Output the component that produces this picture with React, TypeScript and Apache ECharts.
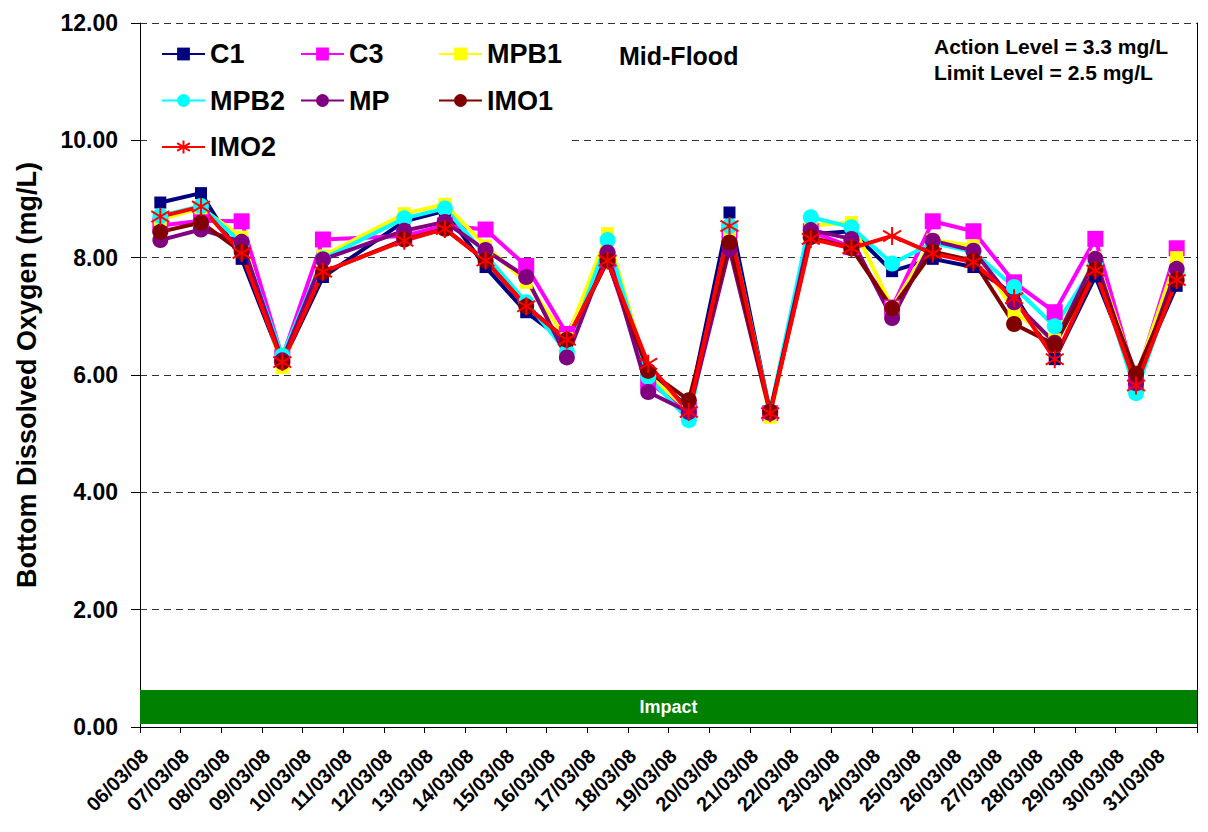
import React, { useEffect, useRef } from "react";
import * as echarts from "echarts";

const categories = [
  "06/03/08", "07/03/08", "08/03/08", "09/03/08", "10/03/08", "11/03/08", "12/03/08",
  "13/03/08", "14/03/08", "15/03/08", "16/03/08", "17/03/08", "18/03/08", "19/03/08",
  "20/03/08", "21/03/08", "22/03/08", "23/03/08", "24/03/08", "25/03/08", "26/03/08",
  "27/03/08", "28/03/08", "29/03/08", "30/03/08", "31/03/08",
];

const C1 = [8.94, 9.10, 7.98, 6.22, 7.67, null, 8.62, 8.80, 7.84, 7.07, 6.55, 7.95, 6.02, 5.45, 8.77, 5.35, 8.40, 8.45, 7.77, 7.98, 7.84, 7.37, 6.27, 7.68, 5.95, 7.52];
const C3 = [8.55, 8.63, 8.62, 6.30, 8.31, null, 8.37, 8.55, 8.48, 7.86, 6.70, 7.97, 5.88, 5.40, 8.45, 5.35, 8.45, 8.18, 7.15, 8.62, 8.45, 7.58, 7.07, 8.32, 5.90, 8.16];
const MPB1 = [8.65, 8.85, 8.35, 6.13, 8.03, null, 8.75, 8.91, 8.20, 7.58, 6.62, 8.41, 6.00, 5.40, 8.40, 5.28, 8.55, 8.60, 7.15, 8.30, 8.20, 7.07, 6.60, 8.00, 5.95, 8.00];
const MPB2 = [8.71, 8.88, 8.25, 6.33, 7.98, null, 8.67, 8.84, 8.05, 7.24, 6.39, 8.30, 5.97, 5.23, 8.54, 5.38, 8.69, 8.52, 7.90, 8.25, 8.10, 7.50, 6.83, 7.90, 5.69, 7.75];
const MP = [8.30, 8.48, 8.27, 6.25, 7.97, null, 8.46, 8.61, 8.13, 7.67, 6.30, 8.09, 5.71, 5.37, 8.15, 5.35, 8.47, 8.32, 6.97, 8.29, 8.12, 7.24, 6.55, 7.98, 5.86, 7.81];
const IMO1 = [8.44, 8.60, 8.10, 6.22, 7.75, null, 8.31, 8.49, 7.95, 7.17, 6.60, 7.95, 6.07, 5.57, 8.26, 5.38, 8.35, 8.16, 7.14, 8.10, 7.95, 6.87, 6.52, 7.80, 6.02, 7.62];
const IMO2 = [8.70, 8.87, 8.08, 6.22, 7.76, null, 8.29, 8.49, 7.95, 7.17, 6.60, 7.95, 6.19, 5.37, 8.54, 5.35, 8.32, 8.16, 8.37, 8.07, 7.92, 7.31, 6.27, 7.78, 5.82, 7.62];

const impactBand = [0.05, 0.63];
const yMin = 0;
const yMax = 12;
const yInterval = 2;

const FONT = "'Liberation Sans', Arial, sans-serif";
const ASTERISK = "path://M5 0L5 10M1 2L9 8M1 8L9 2";

function lineSeries(name: string, data: (number | null)[], color: string, symbol: string, size: number, width: number, extra: any = {}) {
  return {
    name,
    type: "line",
    data,
    connectNulls: true,
    symbol,
    symbolSize: size,
    lineStyle: { color, width },
    itemStyle: { color, borderColor: color, borderWidth: symbol === ASTERISK ? 2 : 0 },
    emphasis: { disabled: true },
    ...extra,
  };
}

export default function App() {
  const ref = useRef<HTMLDivElement>(null);
  useEffect(() => {
    if (!ref.current) return;
    const chart = echarts.init(ref.current, null, { renderer: "svg" });
    const legendText = { fontSize: 27, fontWeight: "bold", fontFamily: FONT, color: "#000", lineHeight: 30 };
    const legendCommon = {
      orient: "vertical",
      top: 39,
      padding: 0,
      itemWidth: 43,
      itemHeight: 16,
      itemGap: 16.5,
      textStyle: legendText,
      selectedMode: false,
    };
    chart.setOption({
      animation: false,
      backgroundColor: "#fff",
      grid: { left: 140, right: 11, top: 23, bottom: 105, containLabel: false },
      legend: [
        { ...legendCommon, left: 161, data: ["C1", "MPB2", "IMO2"] },
        { ...legendCommon, left: 300, data: ["C3", "MP"] },
        { ...legendCommon, left: 438, data: ["MPB1", "IMO1"] },
      ],
      xAxis: {
        type: "category",
        data: categories,
        boundaryGap: true,
        axisLine: { lineStyle: { color: "#000", width: 1 } },
        axisTick: { show: true, length: 6, lineStyle: { color: "#000" }, interval: 0 },
        axisLabel: {
          rotate: 45,
          interval: 0,
          margin: 10,
          padding: [0, 22, 0, 0],
          fontSize: 20,
          fontWeight: "bold",
          fontFamily: FONT,
          color: "#000",
        },
        splitLine: { show: false },
      },
      yAxis: [
        {
          type: "value",
          min: yMin,
          max: yMax,
          interval: yInterval,
          name: "Bottom Dissolved Oxygen (mg/L)",
          nameLocation: "middle",
          nameGap: 100,
          nameRotate: 90,
          nameTextStyle: { fontSize: 27, fontWeight: "bold", fontFamily: FONT, color: "#000" },
          axisLine: { show: true, lineStyle: { color: "#000", width: 1 } },
          axisTick: { show: true, length: 9, lineStyle: { color: "#000" } },
          axisLabel: {
            formatter: (v: number) => v.toFixed(2),
            fontSize: 23,
            fontWeight: "bold",
            fontFamily: FONT,
            color: "#000",
            margin: 22,
          },
          splitLine: { show: true, lineStyle: { color: "#333", width: 1, type: [7, 5] } },
        },
        {
          type: "value",
          min: yMin,
          max: yMax,
          interval: yInterval,
          position: "right",
          axisLine: { show: true, lineStyle: { color: "#000", width: 1 } },
          axisTick: { show: false },
          axisLabel: { show: false },
          splitLine: { show: false },
        },
      ],
      graphic: [
        { type: "rect", z: 3, shape: { x: 152, y: 27, width: 420, height: 146 }, style: { fill: "#fff" } },
        {
          type: "text", z: 5, x: 619, y: 56,
          style: { text: "Mid-Flood", fontSize: 25, fontWeight: "bold", fontFamily: FONT, fill: "#000", textVerticalAlign: "middle" },
        },
        {
          type: "text", z: 5, x: 934, y: 46,
          style: { text: "Action Level = 3.3 mg/L", fontSize: 21, fontWeight: "bold", fontFamily: FONT, fill: "#000", textVerticalAlign: "middle" },
        },
        {
          type: "text", z: 5, x: 934, y: 72,
          style: { text: "Limit Level = 2.5 mg/L", fontSize: 21, fontWeight: "bold", fontFamily: FONT, fill: "#000", textVerticalAlign: "middle" },
        },
      ],
      series: [
        lineSeries("C1", C1, "#000080", "rect", 12, 4, {
          markArea: {
            silent: true,
            itemStyle: { color: "#008000", opacity: 1 },
            label: { show: true, position: "inside", color: "#fff", fontSize: 18, fontWeight: "bold", fontFamily: FONT },
            data: [[{ name: "Impact", yAxis: impactBand[0] }, { yAxis: impactBand[1] }]],
          },
        }),
        lineSeries("C3", C3, "#FF00FF", "rect", 16, 4),
        lineSeries("MPB1", MPB1, "#FFFF00", "rect", 13, 4),
        lineSeries("MPB2", MPB2, "#00FFFF", "circle", 16, 4),
        lineSeries("MP", MP, "#800080", "circle", 16, 4),
        lineSeries("IMO1", IMO1, "#800000", "circle", 16, 4),
        lineSeries("IMO2", IMO2, "#FF0000", ASTERISK, 18, 4),
      ],
    });
    return () => chart.dispose();
  }, []);
  return <div ref={ref} style={{ position: "fixed", left: 0, top: 0, width: 1208, height: 832 }} />;
}
